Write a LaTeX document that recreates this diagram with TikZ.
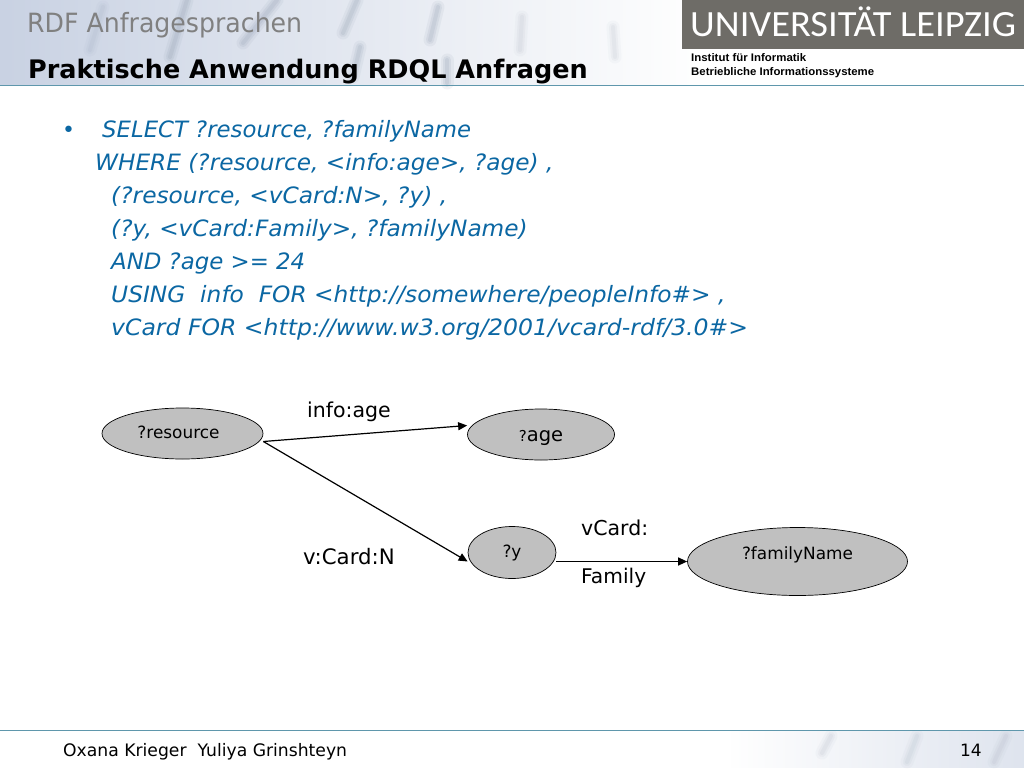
\documentclass[tikz,border=0pt]{standalone}
\usepackage{fontspec}
\setmainfont{DejaVu Sans}
\newfontfamily\logofont{Liberation Sans}
\newfontfamily\logothin{Carlito}
\usetikzlibrary{shapes.geometric,arrows.meta,fadings}
\definecolor{bodyblue}{HTML}{0B67A3}
\definecolor{rulecol}{HTML}{5F97AC}
\definecolor{logogrey}{HTML}{6E6C67}
\definecolor{nodegrey}{HTML}{C0C0C0}
\definecolor{headblue}{HTML}{C9D2E3}
\definecolor{keycol}{HTML}{8E9BAE}
\tikzfading[name=fadeR,left color=transparent!0,right color=transparent!100]
\tikzfading[name=fadeL,left color=transparent!100,right color=transparent!0]
\newcommand{\bodytext}[2]{\scalebox{#1}[1]{#2}}
\tikzset{
  x=1pt,y=-1pt,
  var/.style={ellipse,draw=black,line width=0.7pt,fill=nodegrey,inner sep=0pt,font=\fontsize{16.9}{18}\selectfont},
  edgelab/.style={anchor=base west,inner sep=0pt,font=\fontsize{20.5}{22}\selectfont},
  bodyline/.style={anchor=base west,inner sep=0pt,text=bodyblue,font=\fontsize{22.5}{26}\selectfont\itshape},
  link/.style={draw=black,line width=1.2pt,-{Triangle[length=9pt,width=8pt]}},
  softstrong/.style={draw=keycol,line cap=round,line width=4pt,opacity=0.16,
    preaction={draw=keycol,line cap=round,line width=8pt,opacity=0.14},
    preaction={draw=keycol,line cap=round,line width=13pt,opacity=0.1}},
  softweak/.style={draw=keycol,line cap=round,line width=4pt,opacity=0.08,
    preaction={draw=keycol,line cap=round,line width=8pt,opacity=0.07},
    preaction={draw=keycol,line cap=round,line width=13pt,opacity=0.05}},
}
\begin{document}
\begin{tikzpicture}
\useasboundingbox (0,0) rectangle (1024,768);
\fill[white] (0,0) rectangle (1024,768);
% header background
\fill[headblue,path fading=fadeR] (0,0) rectangle (700,85);
\draw[softweak] (103,7) -- (90,50);
\draw[softstrong] (187,0) -- (170,57);
\draw[softstrong] (277,0) -- (243,43);
\draw[softstrong] (357,0) -- (343,33);
\draw[softstrong] (360,47) -- (353,77);
\draw[softstrong] (438,7) -- (430,40);
\draw[softstrong] (447,60) -- (447,83);
\draw[softweak] (522,17) -- (520,50);
\draw[softweak] (613,27) -- (615,57);
% logo
\fill[logogrey] (682,0) rectangle (1024,49);
\node[anchor=base west,inner sep=0pt,text=white] (logo) at (690,37)
  {\resizebox{326pt}{\height}{\logothin\fontsize{37}{40}\selectfont UNIVERSITÄT LEIPZIG}};
\node[anchor=base west,inner sep=0pt] (inst1) at (691,61)
  {\resizebox{115pt}{\height}{\logofont\bfseries\fontsize{11}{12}\selectfont Institut für Informatik}};
\node[anchor=base west,inner sep=0pt] (inst2) at (691,75)
  {\resizebox{183pt}{\height}{\logofont\bfseries\fontsize{11}{12}\selectfont Betriebliche Informationssysteme}};
% titles
\node[anchor=base west,inner sep=0pt,text=black!50] (sup) at (27,33)
  {\resizebox{275pt}{\height}{\fontsize{26.5}{28}\selectfont RDF Anfragesprachen}};
\node[anchor=base west,inner sep=0pt] (title) at (28,78)
  {\fontsize{25.5}{28}\selectfont\bfseries Praktische Anwendung RDQL Anfragen};
\draw[rulecol,line width=1pt] (0,85.5) -- (1024,85.5);
% body
\node[anchor=base west,inner sep=0pt,text=bodyblue,font=\fontsize{22}{26}\selectfont] (bul) at (62,137) {•};
\node[bodyline] (l1) at (102,137) {\bodytext{1.013}{SELECT ?resource, ?familyName}};
\node[bodyline] (l2) at (95,170) {\bodytext{1.031}{WHERE (?resource, <info:age>, ?age) ,}};
\node[bodyline] (l3) at (111,203) {\bodytext{1.036}{(?resource, <vCard:N>, ?y) ,}};
\node[bodyline] (l4) at (111,236) {\bodytext{1.032}{(?y, <vCard:Family>, ?familyName)}};
\node[bodyline] (l5) at (111,269) {\bodytext{1.015}{AND ?age >= 24}};
\node[bodyline] (l6) at (111,302) {\bodytext{1.036}{USING\ \ info\ \ FOR <http://somewhere/peopleInfo\#> ,}};
\node[bodyline] (l7) at (111,335) {\bodytext{1.046}{vCard FOR <http://www.w3.org/2001/vcard-rdf/3.0\#>}};
% graph
\node[var,minimum width=161pt,minimum height=51pt] (res) at (182.5,433.5) {\raisebox{3pt}{\hspace{-8pt}?resource}};
\node[var,minimum width=147pt,minimum height=51pt] (age) at (541,434.5) {\raisebox{-6.5pt}[0pt][0pt]{\fontsize{15}{18}\selectfont ?\fontsize{19.5}{22}\selectfont age}};
\node[var,minimum width=88pt,minimum height=52pt] (yy) at (512,552.5) {\raisebox{2pt}{?y}};
\node[var,minimum width=220pt,minimum height=68pt] (fam) at (797.5,561.5) {\raisebox{16pt}{?familyName}};
\draw[link] ([yshift=-8pt]res.east) -- ([yshift=9pt]age.west);
\draw[link] ([yshift=-8pt]res.east) -- ([yshift=-9pt]yy.west);
\draw[link] ([yshift=-9pt]yy.east) -- (fam.west);
\node[edgelab] (e1) at (307,417) {info:age};
\node[edgelab,font=\fontsize{21.3}{22}\selectfont] (e2) at (303,564) {v:Card:N};
\node[edgelab] (e3a) at (581,535) {vCard:};
\node[edgelab,font=\fontsize{20.2}{22}\selectfont] (e3b) at (581,583) {Family};
% footer
\fill[headblue,opacity=0.6,path fading=fadeL] (730,731) rectangle (1024,768);
\draw[softweak] (831,736) -- (822,753);
\draw[softweak] (917,736) -- (907,762);
\draw[softweak] (1006,736) -- (994,762);
\fill[white] (724,720) rectangle (1024,730);
\draw[rulecol,line width=1pt] (0,730.5) -- (1024,730.5);
\node[anchor=base west,inner sep=0pt,font=\fontsize{17.2}{20}\selectfont] (auth) at (63,756) {Oxana Krieger\ \ Yuliya Grinshteyn};
\node[anchor=base east,inner sep=0pt,font=\fontsize{17}{20}\selectfont] (page) at (982,756) {14};
\end{tikzpicture}
\end{document}
